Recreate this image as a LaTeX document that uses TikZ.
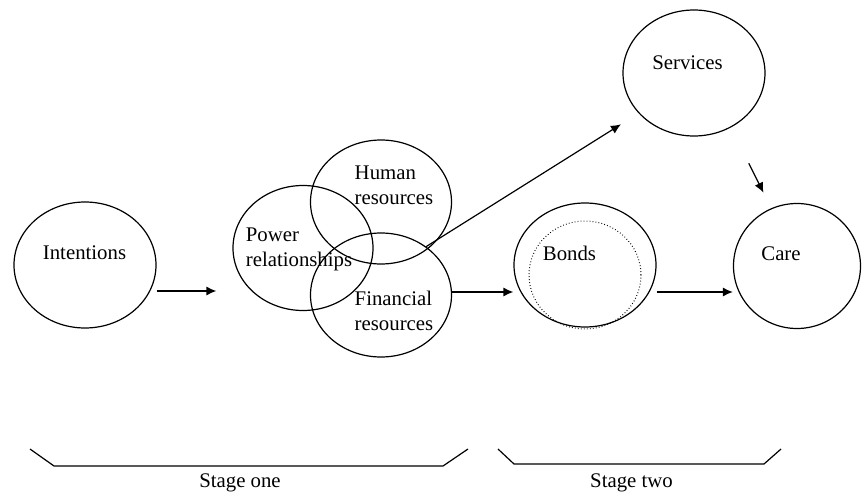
\documentclass[tikz,border=0pt]{standalone}
\usepackage{fontspec}
\setmainfont{Liberation Serif}
\usetikzlibrary{arrows.meta,shapes.geometric}

\tikzset{
    blob/.style={draw, ellipse, inner sep=0pt, line width=0.6pt},
    tag/.style={inner sep=0pt, font=\fontsize{10.4}{12.5}\selectfont},
    arr/.style={-{Latex[length=5pt,width=4.5pt]}, line width=0.6pt}
}

\begin{document}
\begin{tikzpicture}[x=0.5pt, y=0.5pt]
    \useasboundingbox (0,0) rectangle (862,494);

    % Draw the stage one circles
    \node[blob, minimum width=71pt, minimum height=63pt] (int) at (85,229) {};
    \node[blob, minimum width=70pt, minimum height=62.5pt] (pow) at (303,246) {};
    \node[blob, minimum width=70.5pt, minimum height=62pt] (hum) at (381,292) {};
    \node[blob, minimum width=70.5pt, minimum height=62pt] (fin) at (381,199) {};

    % Draw the stage two circles
    \node[blob, dash pattern=on 0.4pt off 1.1pt, line width=0.5pt,
          minimum width=56pt, minimum height=54pt] (bonin) at (585,219) {};
    \node[blob, minimum width=71pt, minimum height=62pt] (bon) at (585,229) {};
    \node[blob, minimum width=71pt, minimum height=63pt] (svc) at (694,421) {};
    \node[blob, minimum width=63.5pt, minimum height=62.5pt] (care) at (797,228) {};

    % Labels inside the circles
    \node[tag] (int-txt) at (84.5,241) {Intentions};
    \node[tag, align=left] (pow-txt) at (299,245) {Power\\relationships};
    \node[tag, align=left] (hum-txt) at (394,308.5) {Human\\resources};
    \node[tag, align=left] (fin-txt) at (394,183.5) {Financial\\resources};
    \node[tag] (bon-txt) at (569.5,241) {Bonds};
    \node[tag] (svc-txt) at (687.5,431) {Services};
    \node[tag] (care-txt) at (781,240) {Care};

    % Draw the arrows
    \draw[arr] ([yshift=-13pt]int.east) -- ([shift={(-8pt,-21.5pt)}]pow.west);
    \draw[arr] ([yshift=1.5pt]fin.east) -- ([yshift=-13.5pt]bon.west);
    \draw[arr] ([yshift=-13.5pt]bon.east) -- ([yshift=-13pt]care.west);
    \draw[arr, shorten >=10.4pt] (fin.47) -- (svc.216);
    \draw[arr, shorten <=20pt, shorten >=8.7pt] (svc.-56) -- (care.114);

    % Draw the stage brackets
    \draw[line width=0.6pt] (30,45) -- (54,28) -- (443,28) -- (468,45);
    \draw[line width=0.6pt] (498,45) -- (514,30) -- (764,30) -- (781,45);
    \node[tag] (one) at (240,11) {Stage one};
    \node[tag] (two) at (631.5,11) {Stage two};

\end{tikzpicture}
\end{document}
